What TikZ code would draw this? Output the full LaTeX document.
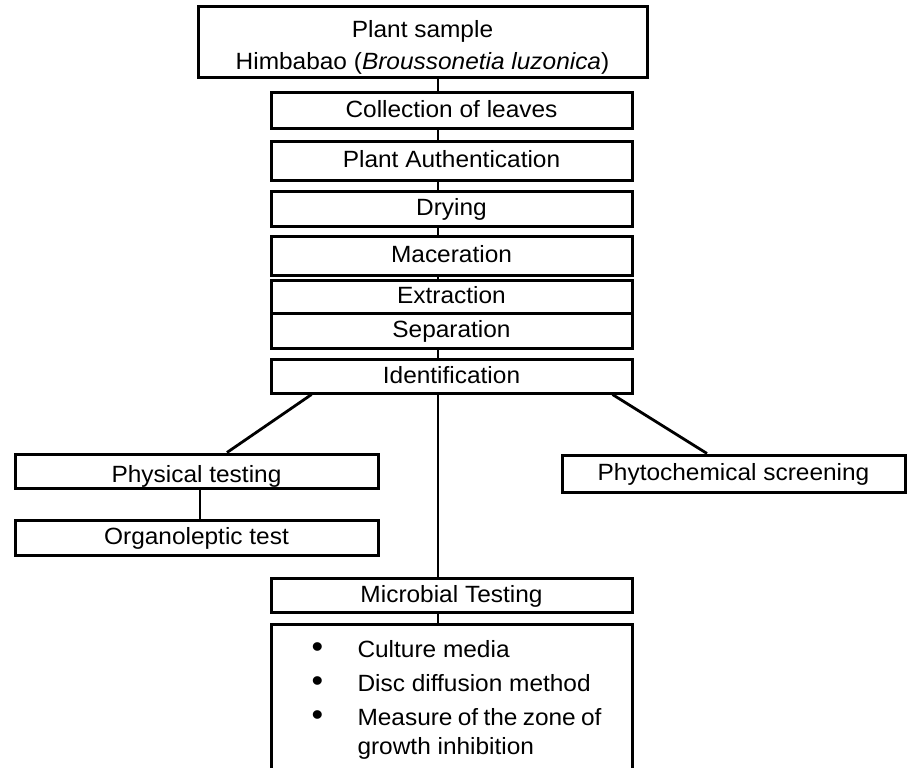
\documentclass[tikz,border=0pt]{standalone}
\usepackage{fontspec}
\setmainfont[FakeStretch=1.04]{Liberation Sans}
\usepackage{tikz}

\newcommand{\listItem}[1]{\hspace*{10pt}\makebox[46pt][l]{\scalebox{1.35}{\textbullet}}#1\par}

\begin{document}
\begin{tikzpicture}
[x=1pt,y=-1pt,
  lineDecorate/.style={-,line width=2.8pt},%
  boxDecorate/.style={shape=rectangle,draw,line width=3pt,inner sep=0pt,
    text height=16pt,text depth=2pt,font=\fontsize{23.5}{32}\selectfont},%
  listDecorate/.style={shape=rectangle,draw,line width=3pt,inner xsep=30.5pt,
    inner ysep=16pt,font=\fontsize{23.5}{34}\selectfont}]
\useasboundingbox (0,0) rectangle (911,768);
\clip (0,0) rectangle (911,768);
\coordinate (spine) at (438,0);
%% nodes or boxes
\node (sample) at (422.5,42.5) [boxDecorate,minimum width=449pt,minimum height=71pt,
  text height=0pt,text depth=0pt]
  {\raisebox{-10.5pt}[0pt][0pt]{\begin{tabular}{@{}c@{}}Plant sample\\
   Himbabao (\textit{Broussonetia luzonica})\end{tabular}}};
\foreach \nodename/\y/\h/\txt in {
  collect/110.5/35/Collection of leaves, auth/160.5/39/Plant Authentication,
  dry/208.5/35/Drying, macer/255.5/39/Maceration, extract/296.5/33/Extraction,
  separ/330.5/35/Separation, ident/376/34/Identification,
  micro/595/34/Microbial Testing}
{
  \node (\nodename) at (451.5,\y) [boxDecorate,minimum width=361pt,minimum height=\h pt] {\txt};
}
\node (phys) at (196.5,471) [boxDecorate,minimum width=363pt,minimum height=34pt,text height=24pt]
  {Physical testing};
\node (organo) at (196.5,537.5) [boxDecorate,minimum width=363pt,minimum height=35pt]
  {Organoleptic test};
\node (phyto) at (733.5,473.5) [boxDecorate,minimum width=343pt,minimum height=37pt]
  {Phytochemical screening};
\node (tests) at (451.5,623) [listDecorate,anchor=north]
  {\begin{minipage}[t][150pt][t]{300pt}
   \listItem{Culture media}
   \listItem{Disc diffusion method}
   \listItem{Measure of the zone of}
   \vspace*{-5pt}\hspace*{56pt}growth inhibition
   \end{minipage}};
%% edges or lines
\path
\foreach \startnode/\endnode in {sample/collect, collect/auth, auth/dry, dry/macer,
  macer/extract, separ/ident, ident/micro, micro/tests}
{
  (\startnode.south -| spine) edge[lineDecorate] (\endnode.north -| spine)
};
\draw[lineDecorate] ([xshift=42pt]ident.south west) -- ([xshift=30.5pt]phys.north);
\draw[lineDecorate] ([xshift=-21pt]ident.south east) -- ([xshift=-26.5pt]phyto.north);
\draw[lineDecorate] ([xshift=3.5pt]phys.south) -- ([xshift=3.5pt]organo.north);
\end{tikzpicture}
\end{document}
